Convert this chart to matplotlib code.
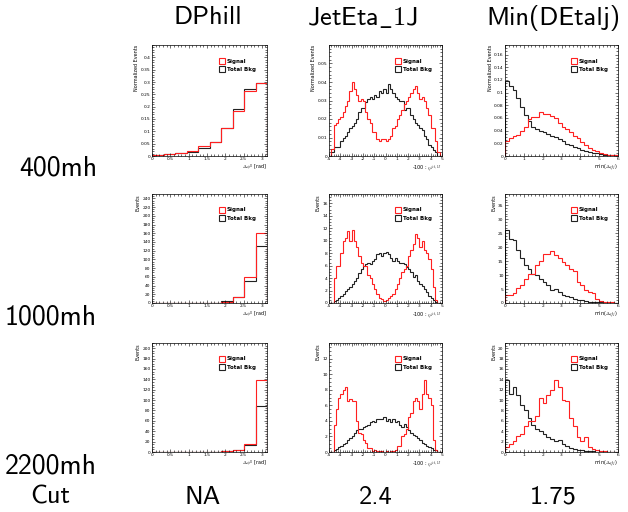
import numpy as np
import matplotlib
matplotlib.use("Agg")
import matplotlib.pyplot as plt
from matplotlib.patches import Patch

plt.rcParams["mathtext.fontset"] = "cm"

# column / row labels of the slide
columns = ["DPhill", r"$\mathsf{JetEta\_1J}$", "Min(DEtalj)"]
rows = ["400mh", "1000mh", "2200mh"]
cuts = ["NA", "2.4", "1.75"]

# DPhill: 10 bins 0..pi
dphi_edges = np.linspace(0, np.pi, 11)
dphi_sig = [
    [0.005, 0.008, 0.012, 0.020, 0.040, 0.055, 0.113, 0.183, 0.265, 0.297],
    [0, 0, 0, 0, 0, 1, 2, 14, 60, 160],
    [0, 0, 0, 0, 0, 0, 1, 3, 15, 138],
]
dphi_bkg = [
    [0.005, 0.007, 0.012, 0.015, 0.033, 0.057, 0.113, 0.190, 0.270, 0.297],
    [0, 0, 0, 0, 0, 1, 4, 14, 51, 131],
    [0, 0, 0, 0, 0, 0, 1, 3, 13, 88],
]

# JetEta_1J: 50 bins -5..5
eta_edges = np.linspace(-5, 5, 51)
eta_sig = [
    [0, 0.004, 0.017, 0.018, 0.020, 0.021, 0.024, 0.027, 0.030, 0.035,
     0.040, 0.036, 0.033, 0.030, 0.031, 0.030, 0.024, 0.020, 0.018, 0.013,
     0.013, 0.009, 0.008, 0.009, 0.009, 0.008, 0.009, 0.011, 0.015, 0.016,
     0.020, 0.022, 0.025, 0.028, 0.030, 0.032, 0.034, 0.036, 0.038, 0.034,
     0.031, 0.032, 0.030, 0.026, 0.022, 0.015, 0.015, 0.008, 0.002, 0],
    [0, 0, 4, 6, 6, 8, 10, 10.5, 11.5, 10,
     11.8, 10, 9, 7.5, 6.5, 6, 6, 4.5, 4, 3,
     2.2, 1.5, 0.8, 0.6, 0.3, 0.5, 0.8, 1.2, 1.5, 2.2,
     3, 4, 5, 5.5, 6, 7.5, 8.5, 9.5, 11, 10.5,
     9, 10, 8.5, 8, 7, 5.5, 2.5, 0.5, 0, 0],
    [0, 0, 3.5, 5.5, 7, 7.5, 8, 8.3, 6.5, 6.8,
     6.5, 6.6, 4, 2.5, 2.3, 1.5, 1.2, 0.5, 0.5, 0.1,
     0.3, 0.1, 0.1, 0.1, 0, 0.1, 0, 0.1, 0.1, 0.2,
     0.8, 0.8, 2, 2.3, 3, 4.5, 5, 6.5, 7, 6.5,
     5.5, 7.5, 9.3, 7.5, 7, 6, 1.5, 0.3, 0, 0],
]
eta_bkg = [
    [0, 0.002, 0.005, 0.005, 0.005, 0.008, 0.010, 0.011, 0.013, 0.015,
     0.016, 0.018, 0.020, 0.024, 0.026, 0.026, 0.029, 0.031, 0.032, 0.031,
     0.033, 0.032, 0.035, 0.034, 0.036, 0.034, 0.039, 0.036, 0.034, 0.032,
     0.031, 0.030, 0.030, 0.025, 0.026, 0.026, 0.022, 0.020, 0.018, 0.017,
     0.015, 0.014, 0.011, 0.009, 0.006, 0.005, 0.003, 0.002, 0, 0],
    [0, 0, 0.3, 0.5, 0.8, 1.2, 1.5, 2, 2.2, 2.5,
     3, 3.5, 4, 4.8, 5.5, 6, 6.2, 6.5, 6.2, 6.8,
     7, 7.8, 8, 7.5, 8, 8.2, 7.8, 7.2, 6.8, 7.2,
     6.8, 6.5, 6.5, 6.2, 5.8, 5.5, 5, 4.2, 4.5, 3.5,
     3, 2.8, 2.2, 1.8, 1.2, 0.8, 0.5, 0.2, 0, 0],
    [0, 0, 0.2, 0.4, 0.6, 0.8, 1, 1.2, 1.5, 1.8,
     2, 2.5, 2.8, 3, 3, 3.2, 3.4, 3.5, 3.8, 4,
     3.8, 4.2, 4.3, 4.2, 4.5, 4, 4.2, 3.8, 4.2, 3.8,
     4, 3.5, 3.2, 3.6, 3.2, 2.8, 2.5, 2.2, 2, 1.8,
     1.5, 1.2, 1, 0.8, 0.6, 0.5, 0.3, 0.2, 0, 0],
]

# Min(DEtalj): 30 bins 0..6
deta_edges = np.linspace(0, 6, 31)
deta_sig = [
    [0.024, 0.028, 0.031, 0.033, 0.040, 0.046, 0.058, 0.061, 0.061, 0.070,
     0.066, 0.066, 0.063, 0.060, 0.052, 0.046, 0.042, 0.038, 0.032, 0.029,
     0.022, 0.018, 0.012, 0.010, 0.008, 0.005, 0.003, 0.002, 0.001, 0.001],
    [3, 2.8, 3.5, 5.2, 6.5, 8.5, 10.2, 10.5, 13.5, 15,
     17.5, 17.5, 18.5, 17, 16, 14.5, 13.5, 12, 11.5, 7.5,
     6.5, 4.5, 4, 3.5, 1.5, 0.8, 0.5, 0.2, 0.2, 0.1],
    [1, 1.5, 2.2, 3, 3.5, 5, 6, 6, 7, 10.5,
     9.5, 11, 12, 13.8, 12.5, 10, 9.8, 6.5, 5, 2.8,
     2.2, 2.8, 1, 0.5, 0.3, 0.1, 0.1, 0, 0, 0],
]
deta_bkg = [
    [0.118, 0.110, 0.104, 0.092, 0.078, 0.065, 0.055, 0.046, 0.042, 0.040,
     0.038, 0.035, 0.032, 0.030, 0.027, 0.023, 0.019, 0.017, 0.014, 0.012,
     0.010, 0.008, 0.006, 0.005, 0.004, 0.003, 0.002, 0.002, 0.001, 0.001],
    [26, 23, 22.5, 19, 16, 13.5, 12, 10.5, 10, 8.5,
     7.5, 6.5, 4.5, 5, 4, 3, 2.5, 2, 1.5, 1.2,
     1, 0.7, 0.5, 0.3, 0.3, 0.2, 0.1, 0.1, 0, 0],
    [13.8, 11.2, 12.5, 11, 9, 8, 6.5, 5.2, 4.5, 4,
     3.5, 2.8, 2.5, 2.2, 2.3, 1.5, 1.2, 0.8, 0.6, 0.4,
     0.3, 0.2, 0.1, 0.1, 0, 0, 0, 0, 0, 0],
]

xlabels = [r"$\Delta\phi^{ll}$ [rad]", r"-100 : $\eta^{jet,1J}$", r"min($\Delta\eta_{lj}$)"]
ymax = [[0.45, 0.06, 0.175], [250, 17.5, 39], [210, 14, 21]]
yticks = [[np.arange(0, 0.41, 0.05), np.arange(0, 0.051, 0.01), np.arange(0, 0.161, 0.02)],
          [np.arange(0, 241, 20), np.arange(0, 17, 2), np.arange(0, 36, 5)],
          [np.arange(0, 201, 20), np.arange(0, 13, 2), np.arange(0, 21, 2)]]
xticks = [np.arange(0, 3.01, 0.5), np.arange(-5, 6, 1), np.arange(0, 7, 1)]

fig = plt.figure(figsize=(6.28, 5.12), dpi=100)

lefts = [152, 329, 505]
widths = [115, 113, 113]
tops = [45, 194, 343]
heights = [111, 109, 109]

big = dict(family=["cmss10", "DejaVu Sans"], fontsize=19)

for r in range(3):
    for c in range(3):
        ax = fig.add_axes([lefts[c] / 628, 1 - (tops[r] + heights[r]) / 512,
                           widths[c] / 628, heights[r] / 512])
        if c == 0:
            edges, s, b = dphi_edges, dphi_sig[r], dphi_bkg[r]
        elif c == 1:
            edges, s, b = eta_edges, eta_sig[r], eta_bkg[r]
        else:
            edges, s, b = deta_edges, deta_sig[r], deta_bkg[r]
        ax.stairs(b, edges, color="#222222", lw=0.8)
        ax.stairs(s, edges, color="#ff2020", lw=0.8)
        ax.set_xlim(edges[0], edges[-1])
        ax.set_ylim(0, ymax[r][c])
        ax.set_xticks(xticks[c])
        ax.set_yticks(yticks[r][c])
        ax.set_xticklabels(["%g" % v for v in xticks[c]])
        ax.set_yticklabels(["%g" % v for v in yticks[r][c]])
        ax.minorticks_on()
        ax.tick_params(which="both", direction="in", top=True, right=True,
                       labelsize=3.2, pad=1, width=0.4)
        ax.tick_params(which="major", length=2.5)
        ax.tick_params(which="minor", length=1.3)
        for sp in ax.spines.values():
            sp.set_linewidth(0.5)
        ax.set_xlabel(xlabels[c], loc="right", fontsize=3.5, labelpad=1)
        ax.set_ylabel("Normalized Events" if r == 0 else "Events", loc="top",
                      fontsize=3.5, labelpad=1)
        handles = [Patch(facecolor="none", edgecolor="#ff2020", lw=0.8, label="Signal"),
                   Patch(facecolor="none", edgecolor="#222222", lw=0.8, label="Total Bkg")]
        ax.legend(handles=handles, loc="upper left", bbox_to_anchor=(0.55, 0.92),
                  frameon=False, prop={"size": 4, "weight": "bold"},
                  handlelength=1.1, handleheight=1.3, handletextpad=0.3,
                  labelspacing=0.4, borderpad=0.2)

# column headers
for c, name in enumerate(columns):
    fig.text([208, 362, 553][c] / 628, 1 - 18 / 512, name, ha="center", va="center", **big)

# mass rows
for r, name in enumerate(rows):
    fig.text(97 / 628, 1 - [168, 317, 466][r] / 512, name, ha="right", va="center",
             family=["cmss10", "DejaVu Sans"], fontsize=20)

# cut values
fig.text(50 / 628, 1 - 497 / 512, "Cut", ha="center", va="center", **big)
for c, v in enumerate(cuts):
    fig.text([203, 376, 553][c] / 628, 1 - 497 / 512, v, ha="center", va="center", **big)

fig.savefig("out.png", dpi=100)
